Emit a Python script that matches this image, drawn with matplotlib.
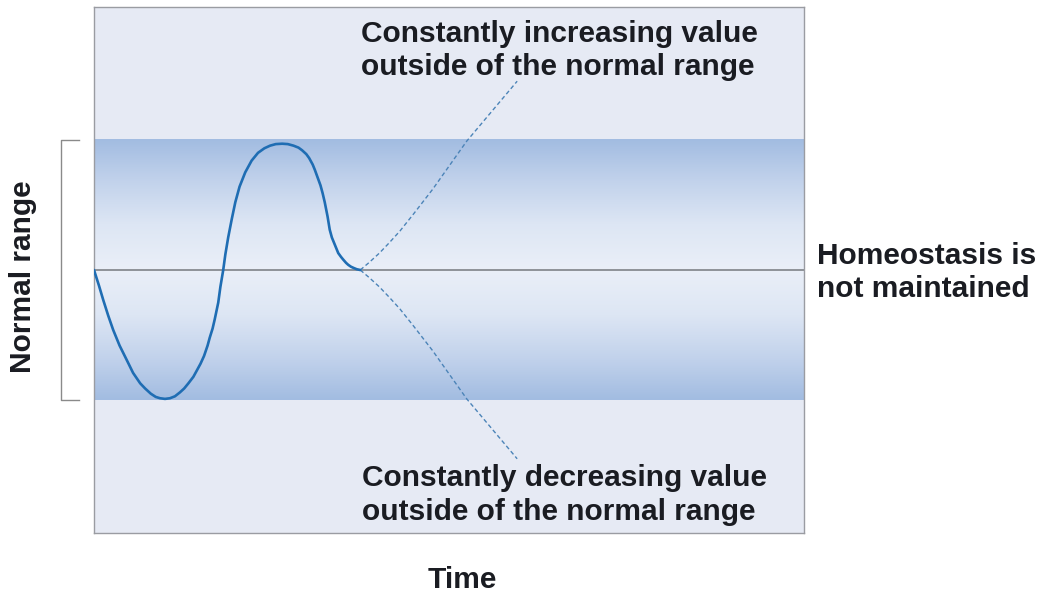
import numpy as np
import matplotlib.pyplot as plt
from matplotlib.colors import LinearSegmentedColormap

# time (0..100 across the box) and value (normal range = -1..1)
curve_t = [0.0, 0.7, 1.3, 2.0, 2.7, 3.6, 4.6, 5.5, 6.5, 7.2, 8.0, 8.7, 9.3, 10.0, 10.7, 11.4, 12.1,
           12.7, 13.3, 14.0, 14.5, 15.0, 15.5, 16.0, 16.3, 16.7, 17.0, 17.5, 17.8, 18.2,
           18.5, 18.9, 19.4, 19.9, 20.5, 21.3, 22.2, 23.1, 24.0, 24.8, 25.6, 26.5, 27.3, 28.1,
           28.8, 29.3, 29.9, 30.3, 30.8, 31.1, 31.5, 31.9, 32.2, 32.5, 32.9, 33.2, 33.5, 33.8,
           34.1, 34.4, 34.8, 35.1, 35.5, 35.8, 36.2, 36.6, 37.0, 37.5]
curve_v = [0.0, -0.12, -0.23, -0.35, -0.46, -0.58, -0.69, -0.79, -0.87, -0.91, -0.95, -0.975,
           -0.985, -0.99, -0.985, -0.97, -0.94, -0.91, -0.87, -0.82, -0.77, -0.72, -0.66, -0.58,
           -0.52, -0.45, -0.38, -0.25, -0.13, 0.0,
           0.12, 0.25, 0.39, 0.52, 0.64, 0.75, 0.84, 0.90, 0.935, 0.955, 0.967, 0.97, 0.967, 0.955,
           0.94, 0.92, 0.89, 0.86, 0.81, 0.77, 0.71, 0.65, 0.59, 0.52, 0.41, 0.31, 0.25, 0.21,
           0.17, 0.13, 0.10, 0.08, 0.055, 0.04, 0.025, 0.015, 0.006, 0.0]

up_t = [37.5, 38.8, 40.2, 41.6, 43.1, 45.0, 47.7, 52.5, 59.6]
up_v = [0.0, 0.06, 0.13, 0.21, 0.3, 0.43, 0.62, 0.99, 1.45]
down_t = [37.5, 38.8, 40.2, 41.6, 43.1, 45.0, 47.7, 52.5, 59.6]
down_v = [0.0, -0.06, -0.13, -0.21, -0.3, -0.43, -0.62, -0.99, -1.45]

band_lo, band_hi = -1.0, 1.0

W, H = 1038, 595


def px(x, y):
    return x / W, 1 - y / H


fig = plt.figure(figsize=(10.38, 5.95), dpi=100)
fig.patch.set_facecolor('white')
ax = fig.add_axes([94 / W, (H - 533) / H, 710 / W, 526 / H])
ax.set_xlim(0, 100)
ax.set_ylim(-2.02, 2.02)
ax.set_facecolor('#e6eaf4')

# gradient bands: light at the set point, darker toward the limits
cmap = LinearSegmentedColormap.from_list('band', [(0.0, '#eaeff8'), (0.35, '#dde6f4'),
                                                  (0.7, '#c0d1eb'), (1.0, '#a2bce1')])
grad = np.abs(np.linspace(band_hi, band_lo, 400)).reshape(-1, 1)
ax.imshow(grad, extent=[0, 100, band_lo, band_hi], aspect='auto', cmap=cmap,
          vmin=0, vmax=1, zorder=1, interpolation='bilinear')

ax.axhline(0, color='#7f8288', lw=1.2, zorder=2)
ax.plot(curve_t, curve_v, color='#1f6db3', lw=1.9, zorder=4,
        solid_capstyle='round', solid_joinstyle='round')
ax.plot(up_t, up_v, color='#4c84b8', lw=1.0, ls=(0, (3, 2)), zorder=3)
ax.plot(down_t, down_v, color='#4c84b8', lw=1.0, ls=(0, (3, 2)), zorder=3)

ax.set_xticks([])
ax.set_yticks([])
for s in ax.spines.values():
    s.set_color('#9a9ca2')
    s.set_linewidth(1.0)

# bracket marking the normal range
bx = (61 - 94) / 7.1
bt = (79 - 94) / 7.1
ax.plot([bt, bx, bx, bt], [band_hi, band_hi, band_lo, band_lo], color='#8a8a8a',
        lw=1.0, clip_on=False)

font = dict(family=['Liberation Sans', 'DejaVu Sans'], fontweight='bold', fontsize=21.5,
            color='#1a1c22')

fig.text(*px(361, 42), 'Constantly increasing value', ha='left', va='baseline', **font)
fig.text(*px(361, 75), 'outside of the normal range', ha='left', va='baseline', **font)
fig.text(*px(362, 486), 'Constantly decreasing value', ha='left', va='baseline', **font)
fig.text(*px(362, 520), 'outside of the normal range', ha='left', va='baseline', **font)
fig.text(*px(817, 264), 'Homeostasis is', ha='left', va='baseline', **font)
fig.text(*px(817, 297), 'not maintained', ha='left', va='baseline', **font)
fig.text(*px(462, 588), 'Time', ha='center', va='baseline', **font)
fig.text(*px(23, 277), 'Normal range', ha='center', va='center', rotation=90, **font)

fig.savefig('out.png', dpi=100)
